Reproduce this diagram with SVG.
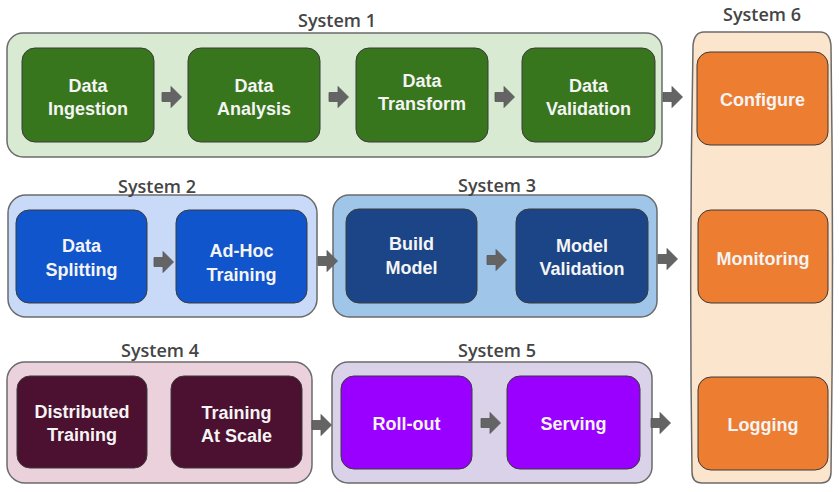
<svg xmlns="http://www.w3.org/2000/svg" xmlns:xlink="http://www.w3.org/1999/xlink" width="840" height="492" viewBox="0 0 840 492">
<style>
.cont{stroke:#6b6b6b;stroke-width:1.5}
.node{stroke:#3a3a3a;stroke-width:1}
.lbl{font-family:"Open Sans","DejaVu Sans",sans-serif;font-size:18px;font-weight:600;fill:#454545;text-anchor:middle}
.t{font-family:"Liberation Sans",Arial,sans-serif;font-weight:bold;font-size:18px;fill:#f4f4f4;text-anchor:middle}
.arr{fill:#646464;stroke:#555;stroke-width:0.8}
</style>
<defs>
<path id="arr" d="M0,-4.5H9V-10.5L19.5,0L9,10.5V4.5H0Z"/>
</defs>
<rect width="840" height="492" fill="#ffffff"/>

<g id="system1">
<rect class="cont" x="7" y="33" width="655" height="124" rx="16" fill="#d9ead3"/>
<text class="lbl" x="337" y="27">System 1</text>
</g>
<g id="system2">
<rect class="cont" x="8" y="195" width="309" height="122" rx="18" fill="#c9daf8"/>
<text class="lbl" x="157" y="193">System 2</text>
</g>
<g id="system3">
<rect class="cont" x="333" y="195" width="324" height="122" rx="16" fill="#9fc5e8"/>
<text class="lbl" x="497" y="192">System 3</text>
</g>
<g id="system4">
<rect class="cont" x="7" y="362" width="305" height="121" rx="18" fill="#ead1dc"/>
<text class="lbl" x="160" y="357">System 4</text>
</g>
<g id="system5">
<rect class="cont" x="332" y="362" width="320" height="121" rx="16" fill="#d9d2e9"/>
<text class="lbl" x="497" y="357">System 5</text>
</g>
<g id="system6">
<path class="cont" d="M704,32 H820 Q830,32 831,46 Q834,260 831,472 Q831,483 821,483 H702 Q692,483 692,472 Q689,260 693,46 Q694,32 704,32 Z" fill="#fce5cd"/>
<text class="lbl" x="762" y="21">System 6</text>
</g>

<g id="data-ingestion">
<rect class="node" x="22" y="48" width="132" height="94" rx="13" fill="#38761d"/>
<text class="t" x="88" y="92">Data</text><text class="t" x="88" y="115">Ingestion</text>
</g>
<g id="data-analysis">
<rect class="node" x="188" y="48" width="132" height="94" rx="13" fill="#38761d"/>
<text class="t" x="254" y="92">Data</text><text class="t" x="254" y="115">Analysis</text>
</g>
<g id="data-transform">
<rect class="node" x="356" y="48" width="132" height="94" rx="13" fill="#38761d"/>
<text class="t" x="422" y="87">Data</text><text class="t" x="422" y="110">Transform</text>
</g>
<g id="data-validation">
<rect class="node" x="522" y="48" width="133" height="94" rx="13" fill="#38761d"/>
<text class="t" x="588.5" y="92">Data</text><text class="t" x="588.5" y="115">Validation</text>
</g>

<g id="configure">
<rect class="node" x="697" y="52" width="131" height="93" rx="13" fill="#ed7d31"/>
<text class="t" x="762.5" y="106">Configure</text>
</g>
<g id="monitoring">
<rect class="node" x="698" y="210" width="130" height="93" rx="13" fill="#ed7d31"/>
<text class="t" x="763" y="265">Monitoring</text>
</g>
<g id="logging">
<rect class="node" x="698" y="377" width="130" height="93" rx="13" fill="#ed7d31"/>
<text class="t" x="763" y="431">Logging</text>
</g>

<g id="data-splitting">
<rect class="node" x="16" y="210" width="131" height="93" rx="13" fill="#1155cc"/>
<text class="t" x="81.5" y="252">Data</text><text class="t" x="81.5" y="276">Splitting</text>
</g>
<g id="ad-hoc-training">
<rect class="node" x="176" y="210" width="131" height="93" rx="13" fill="#1155cc"/>
<text class="t" x="241.5" y="257">Ad-Hoc</text><text class="t" x="241.5" y="281">Training</text>
</g>
<g id="build-model">
<rect class="node" x="346" y="209" width="131" height="94" rx="13" fill="#1c4587"/>
<text class="t" x="411.5" y="250">Build</text><text class="t" x="411.5" y="274">Model</text>
</g>
<g id="model-validation">
<rect class="node" x="516" y="209" width="132" height="94" rx="13" fill="#1c4587"/>
<text class="t" x="582" y="252">Model</text><text class="t" x="582" y="275">Validation</text>
</g>

<g id="distributed-training">
<rect class="node" x="17" y="376" width="130" height="92" rx="13" fill="#4c1130"/>
<text class="t" x="82" y="418">Distributed</text><text class="t" x="82" y="441">Training</text>
</g>
<g id="training-at-scale">
<rect class="node" x="171" y="376" width="131" height="92" rx="13" fill="#4c1130"/>
<text class="t" x="236.5" y="419">Training</text><text class="t" x="236.5" y="442">At Scale</text>
</g>
<g id="roll-out">
<rect class="node" x="341" y="376" width="131" height="93" rx="13" fill="#9900ff"/>
<text class="t" x="406.5" y="430">Roll-out</text>
</g>
<g id="serving">
<rect class="node" x="507" y="376" width="133" height="93" rx="13" fill="#9900ff"/>
<text class="t" x="573.5" y="430">Serving</text>
</g>

<g id="connectors" class="arr">
<use xlink:href="#arr" x="162" y="97"/>
<use xlink:href="#arr" x="329" y="97"/>
<use xlink:href="#arr" x="495" y="97"/>
<use xlink:href="#arr" x="663" y="97"/>
<use xlink:href="#arr" x="154" y="262"/>
<use xlink:href="#arr" x="318" y="261"/>
<use xlink:href="#arr" x="487" y="260"/>
<use xlink:href="#arr" x="658" y="259"/>
<use xlink:href="#arr" x="312" y="425"/>
<use xlink:href="#arr" x="481" y="423"/>
<use xlink:href="#arr" x="651" y="423"/>
</g>
</svg>
